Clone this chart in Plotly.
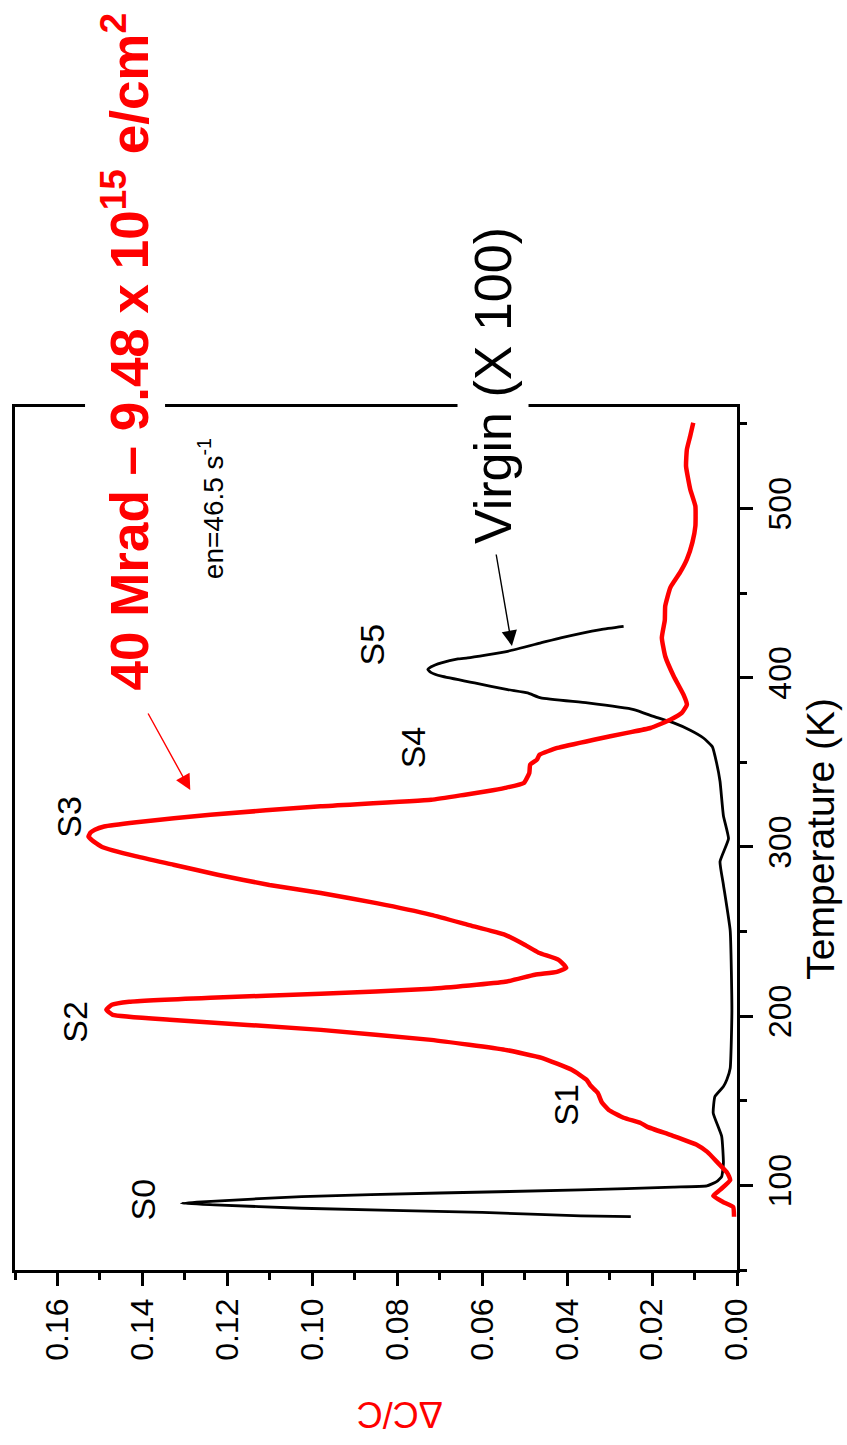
import plotly.graph_objects as go

# ---------------- data ----------------
# 40 Mrad irradiated sample: temperature (K) and ΔC/C
red_T = [81.5, 87.2, 90.2, 93.8, 97.3, 103.2, 107.4, 113.3, 119.8, 123.9, 129.8, 134.6,
         136.9, 140.0, 144.6, 149.0, 154.7, 159.0, 162.4, 168.3, 175.4, 180.1, 186.0,
         191.9, 197.8, 200.8, 203.8, 206.7, 208.5, 210.9, 213.2, 216.2, 220.3, 224.5,
         226.2, 228.6, 233.3, 237.5, 242.2, 248.1, 254.0, 259.9, 266.8, 272.8, 277.5,
         283.6, 289.5, 294.4, 300.0, 304.3, 306.2, 308.5, 310.2, 312.1, 314.6, 319.1,
         324.0, 327.9, 330.9, 332.9, 334.9, 337.8, 343.7, 348.6, 351.6, 354.5, 358.5,
         363.4, 367.4, 370.3, 375.2, 379.2, 384.1, 390.0, 400.9, 412.7, 423.7, 434.0,
         442.3, 453.3, 462.2, 469.9, 480.0, 489.6, 501.4, 511.3, 525.0, 534.9, 543.0, 550.7]
red_val = [0.0007, 0.0009, 0.0033, 0.0056, 0.0040, 0.0016, 0.0023, 0.0045, 0.0070, 0.0094,
           0.0157, 0.0211, 0.0227, 0.0267, 0.0302, 0.0318, 0.0328, 0.0345, 0.0354, 0.0389,
           0.0460, 0.0546, 0.0720, 0.0980, 0.1327, 0.1470, 0.1485, 0.1472, 0.1431, 0.1240,
           0.0980, 0.0720, 0.0546, 0.0476, 0.0424, 0.0402, 0.0420, 0.0467, 0.0500, 0.0546,
           0.0633, 0.0720, 0.0849, 0.0980, 0.1101, 0.1223, 0.1327, 0.1414, 0.1495, 0.1520,
           0.1527, 0.1522, 0.1512, 0.1490, 0.1414, 0.1240, 0.0980, 0.0720, 0.0640, 0.0589,
           0.0546, 0.0502, 0.0489, 0.0487, 0.0471, 0.0465, 0.0423, 0.0337, 0.0259, 0.0204,
           0.0157, 0.0130, 0.0118, 0.0126, 0.0149, 0.0169, 0.0177, 0.0170, 0.0169, 0.0157,
           0.0134, 0.0118, 0.0105, 0.0098, 0.0098, 0.0110, 0.0120, 0.0118, 0.0110, 0.0103]

# Virgin sample (x100): temperature (K) and ΔC/C
blk_T = [81.5, 82.0, 84.0, 86.5, 88.5, 89.4, 90.3, 93.4, 95.5, 97.3, 99.0, 99.7, 102.2,
         105.2, 113.1, 128.9, 142.7, 152.5, 158.4, 162.4, 169.2, 203.2, 250.6, 277.7,
         291.3, 304.9, 318.5, 338.8, 349.6, 359.2, 364.4, 369.0, 373.3, 377.0, 381.2,
         385.1, 388.1, 391.0, 393.0, 396.9, 400.9, 403.0, 404.8, 406.5, 408.8, 411.1,
         411.7, 415.6, 420.6, 423.6, 428.5, 430.4]
blk_val = [0.0250, 0.0368, 0.0600, 0.1025, 0.1230, 0.1308, 0.1260, 0.1025, 0.0700, 0.0368,
           0.0150, 0.0071, 0.0048, 0.0036, 0.0032, 0.0036, 0.0056, 0.0052, 0.0032, 0.0024,
           0.0016, 0.0012, 0.0016, 0.0032, 0.0040, 0.0020, 0.0032, 0.0040, 0.0048, 0.0058,
           0.0079, 0.0110, 0.0149, 0.0195, 0.0243, 0.0352, 0.0462, 0.0493, 0.0540, 0.0618,
           0.0696, 0.0720, 0.0728, 0.0720, 0.0696, 0.0657, 0.0634, 0.0540, 0.0462, 0.0415,
           0.0321, 0.0267]

val_ticks = [0.00, 0.02, 0.04, 0.06, 0.08, 0.10, 0.12, 0.14, 0.16]
temp_ticks = [100, 200, 300, 400, 500]

# ---------------- layout helpers ----------------
W, H = 847, 1445
L, R, T, B = 12, 737, 407, 1270
FONT = "Arial, Liberation Sans, sans-serif"


def px(xp):
    return (xp - L) / (R - L)


def py(yp):
    return (B - yp) / (B - T)


fig = go.Figure()
fig.add_trace(go.Scatter(x=blk_val, y=blk_T, mode="lines",
                         line=dict(color="black", width=2.8, shape="spline", smoothing=0.4),
                         showlegend=False))
fig.add_trace(go.Scatter(x=red_val, y=red_T, mode="lines",
                         line=dict(color="#ff0000", width=4.5, shape="spline", smoothing=0.4),
                         showlegend=False))

fig.update_xaxes(range=[0.17, 0.0], tickvals=val_ticks,
                 ticktext=[f"{v:.2f}" for v in val_ticks],
                 tickangle=-90, ticks="outside", ticklen=13, tickwidth=2.5,
                 tickcolor="black", showline=True, linewidth=2.5, linecolor="black",
                 mirror=True, showgrid=False, zeroline=False,
                 tickfont=dict(family=FONT, size=32, color="black"),
                 minor=dict(dtick=0.01, tick0=0, ticks="outside", ticklen=7,
                            tickwidth=2.5, tickcolor="black"))
fig.update_yaxes(range=[50, 560], side="right", tickvals=temp_ticks,
                 tickangle=-90, ticks="outside", ticklen=13, tickwidth=2.5,
                 tickcolor="black", showline=True, linewidth=2.5, linecolor="black",
                 mirror=True, showgrid=False, zeroline=False,
                 tickfont=dict(family=FONT, size=32, color="black"),
                 minor=dict(dtick=50, tick0=0, ticks="outside", ticklen=7,
                            tickwidth=2.5, tickcolor="black"))

ann = []


def txt(x, y, text, size, color="black", angle=-90, bold=False, bg=None, pad=1):
    d = dict(x=px(x), y=py(y), xref="paper", yref="paper", text=text,
             showarrow=False, textangle=angle, xanchor="center", yanchor="middle",
             font=dict(family=FONT, size=size, color=color,
                       weight="bold" if bold else "normal"))
    if bg:
        d["bgcolor"] = bg
        d["borderpad"] = pad
    ann.append(d)


# peak labels
txt(141, 1199, "S0", 34)
txt(565, 1105, "S1", 34)
txt(72, 1022, "S2", 34)
txt(66, 817, "S3", 34)
txt(412, 747, "S4", 34)
txt(370, 645, "S5", 34)
txt(209, 509, "en=46.5 s<sup>-1</sup>", 28)

# arrows
ann.append(dict(x=px(188), y=py(790), xref="paper", yref="paper", text="",
                showarrow=True, ax=-43, ay=-78, arrowhead=2, arrowsize=2.2,
                arrowwidth=1.4, arrowcolor="#ff0000"))
ann.append(dict(x=px(511), y=py(646), xref="paper", yref="paper", text="",
                showarrow=True, ax=-16, ay=-93, arrowhead=2, arrowsize=2.2,
                arrowwidth=1.4, arrowcolor="black"))

# big labels (white background cuts the frame)
txt(122, 352, "40 Mrad \u2013 9.48 x 10<sup>15</sup> e/cm<sup>2</sup>", 53,
    color="#ff0000", bold=True, bg="white", pad=6)
txt(492, 386, "Virgin (X 100)", 52, bg="white", pad=6)

# axis titles
txt(820, 839, "Temperature (K)", 39)
txt(398, 1415, "\u0394C/C", 36, color="#ff0000", angle=180)

fig.update_layout(width=W, height=H, margin=dict(l=L, r=W - R, t=T, b=H - B, pad=0),
                  paper_bgcolor="white", plot_bgcolor="white", annotations=ann,
                  font=dict(family=FONT))

fig.write_html("out.html")
